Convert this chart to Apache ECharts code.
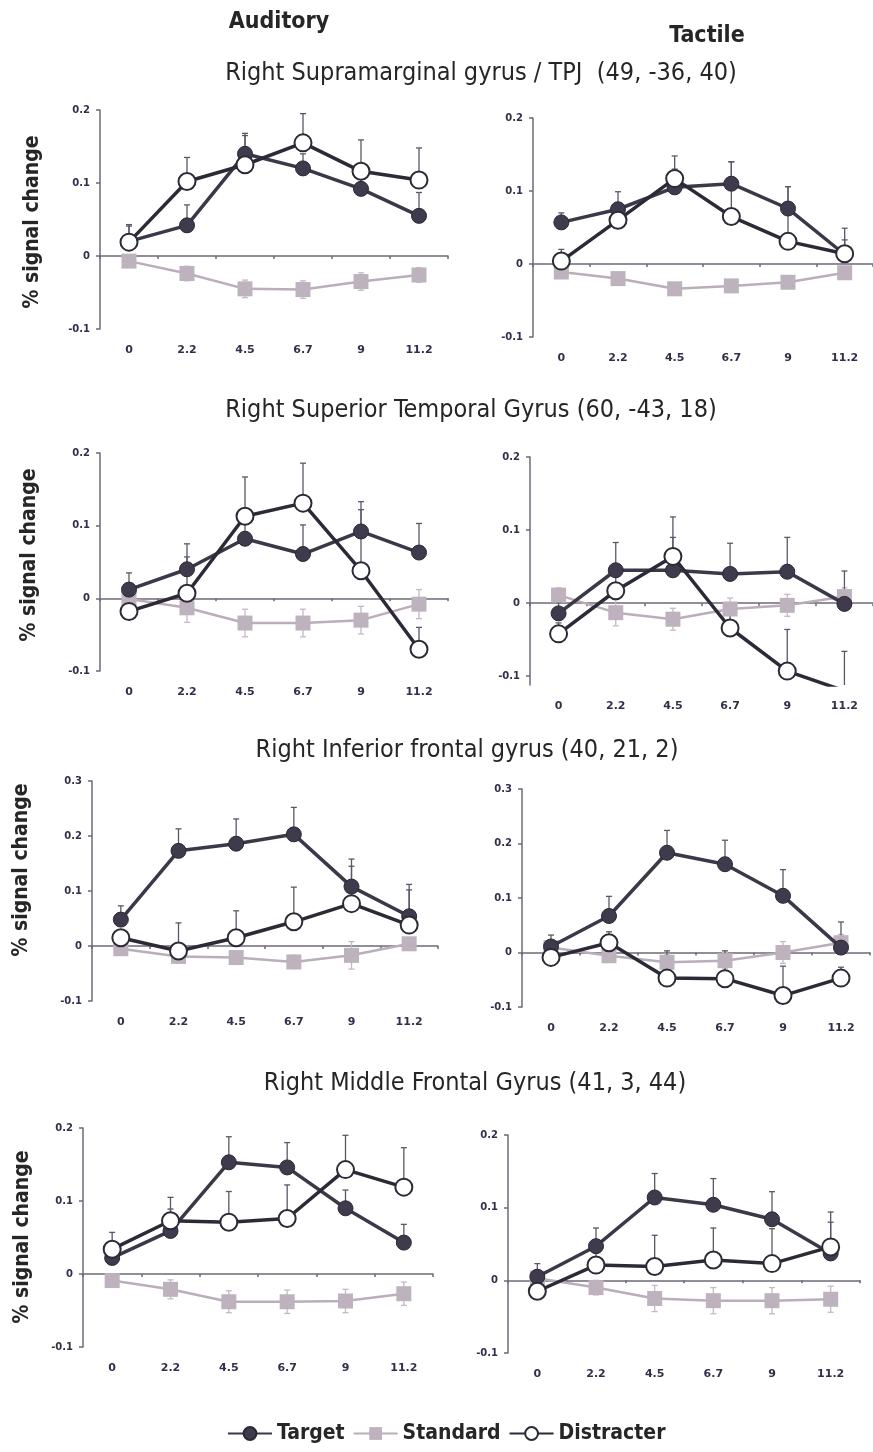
<!DOCTYPE html>
<html>
<head>
<meta charset="utf-8">
<style>
  html, body { margin: 0; padding: 0; background: #fff; }
  #chart-container { width: 873px; height: 1452px; }
</style>
</head>
<body>
<div id="chart-container"></div>
<script src="https://cdn.jsdelivr.net/npm/echarts@6/dist/echarts.min.js"></script>
<script>
var timeLabels = ["0", "2.2", "4.5", "6.7", "9", "11.2"];

// Right Supramarginal gyrus / TPJ
var smgAudTarget = [0.020, 0.042, 0.140, 0.120, 0.092, 0.055];
var smgAudTargetSe = [0.021, 0.028, 0.028, 0.020, 0.020, 0.032];
var smgAudStandard = [-0.007, -0.024, -0.045, -0.046, -0.035, -0.026];
var smgAudStandardSe = [0.008, 0.010, 0.012, 0.012, 0.012, 0.010];
var smgAudDistracter = [0.019, 0.102, 0.125, 0.155, 0.116, 0.104];
var smgAudDistracterSe = [0.024, 0.033, 0.040, 0.040, 0.043, 0.044];

var smgTacTarget = [0.057, 0.075, 0.105, 0.110, 0.076, 0.013];
var smgTacTargetSe = [0.013, 0.024, 0.025, 0.030, 0.030, 0.020];
var smgTacStandard = [-0.011, -0.020, -0.034, -0.030, -0.025, -0.012];
var smgTacStandardSe = [0.006, 0.008, 0.008, 0.008, 0.008, 0.006];
var smgTacDistracter = [0.004, 0.060, 0.117, 0.065, 0.031, 0.014];
var smgTacDistracterSe = [0.016, 0.022, 0.031, 0.075, 0.075, 0.035];

// Right Superior Temporal Gyrus
var stgAudTarget = [0.012, 0.040, 0.082, 0.061, 0.092, 0.063];
var stgAudTargetSe = [0.023, 0.017, 0.030, 0.040, 0.030, 0.040];
var stgAudStandard = [-0.001, -0.013, -0.034, -0.034, -0.030, -0.008];
var stgAudStandardSe = [0.010, 0.020, 0.019, 0.019, 0.019, 0.020];
var stgAudDistracter = [-0.018, 0.007, 0.113, 0.131, 0.038, -0.070];
var stgAudDistracterSe = [0.015, 0.068, 0.054, 0.055, 0.095, 0.030];

var stgTacTarget = [-0.014, 0.045, 0.045, 0.040, 0.043, -0.001];
var stgTacTargetSe = [0.015, 0.038, 0.045, 0.042, 0.047, 0.045];
var stgTacStandard = [0.011, -0.013, -0.022, -0.008, -0.003, 0.009];
var stgTacStandardSe = [0.010, 0.018, 0.015, 0.015, 0.015, 0.012];
var stgTacDistracter = [-0.042, 0.017, 0.064, -0.034, -0.093, -0.120];
var stgTacDistracterSe = [0.015, 0.020, 0.054, 0.020, 0.057, 0.054];

// Right Inferior frontal gyrus
var ifgAudTarget = [0.048, 0.173, 0.186, 0.203, 0.108, 0.054];
var ifgAudTargetSe = [0.025, 0.040, 0.045, 0.049, 0.050, 0.058];
var ifgAudStandard = [-0.005, -0.019, -0.021, -0.029, -0.017, 0.004];
var ifgAudStandardSe = [0.008, 0.010, 0.010, 0.012, 0.025, 0.008];
var ifgAudDistracter = [0.015, -0.009, 0.015, 0.044, 0.077, 0.038];
var ifgAudDistracterSe = [0.010, 0.051, 0.049, 0.063, 0.068, 0.064];

var ifgTacTarget = [0.011, 0.067, 0.183, 0.162, 0.104, 0.009];
var ifgTacTargetSe = [0.021, 0.036, 0.041, 0.044, 0.048, 0.047];
var ifgTacStandard = [0.009, -0.006, -0.018, -0.015, 0.000, 0.018];
var ifgTacStandardSe = [0.010, 0.012, 0.015, 0.015, 0.020, 0.015];
var ifgTacDistracter = [-0.009, 0.018, -0.047, -0.048, -0.079, -0.047];
var ifgTacDistracterSe = [0.010, 0.020, 0.050, 0.051, 0.054, 0.020];

// Right Middle Frontal Gyrus
var mfgAudTarget = [0.022, 0.059, 0.153, 0.146, 0.090, 0.043];
var mfgAudTargetSe = [0.015, 0.030, 0.035, 0.034, 0.025, 0.025];
var mfgAudStandard = [-0.009, -0.021, -0.038, -0.038, -0.037, -0.027];
var mfgAudStandardSe = [0.008, 0.013, 0.015, 0.016, 0.016, 0.016];
var mfgAudDistracter = [0.034, 0.073, 0.071, 0.076, 0.143, 0.119];
var mfgAudDistracterSe = [0.023, 0.032, 0.042, 0.046, 0.047, 0.054];

var mfgTacTarget = [0.005, 0.047, 0.114, 0.104, 0.084, 0.037];
var mfgTacTargetSe = [0.018, 0.025, 0.033, 0.036, 0.038, 0.043];
var mfgTacStandard = [0.003, -0.010, -0.025, -0.028, -0.028, -0.026];
var mfgTacStandardSe = [0.008, 0.010, 0.018, 0.018, 0.018, 0.018];
var mfgTacDistracter = [-0.015, 0.021, 0.019, 0.028, 0.023, 0.046];
var mfgTacDistracterSe = [0.010, 0.020, 0.043, 0.044, 0.048, 0.048];

var rowTitles = [
  "Right Supramarginal gyrus / TPJ  (49, -36, 40)",
  "Right Superior Temporal Gyrus (60, -43, 18)",
  "Right Inferior frontal gyrus (40, 21, 2)",
  "Right Middle Frontal Gyrus (41, 3, 44)"
];

var axisColor = "#6e6a7a";
var labelColor = "#30304a";
var textColor = "#262626";
var targetColor = "#3b3848";
var distracterColor = "#2c2a36";
var standardColor = "#b9aeb9";
var titleFont = "'DejaVu Sans Condensed', 'DejaVu Sans', sans-serif";
var tickFont = "'DejaVu Sans', Verdana, sans-serif";

// box = [left, top, width, height] of each plot area
var panels = [
  { box: [100, 110, 348, 219], yMax: 0.2, yMin: -0.1, t: smgAudTarget, tSe: smgAudTargetSe, s: smgAudStandard, sSe: smgAudStandardSe, d: smgAudDistracter, dSe: smgAudDistracterSe },
  { box: [533, 118, 348, 219], yMax: 0.2, yMin: -0.1, t: smgTacTarget, tSe: smgTacTargetSe, s: smgTacStandard, sSe: smgTacStandardSe, d: smgTacDistracter, dSe: smgTacDistracterSe },
  { box: [100, 453, 348, 218], yMax: 0.2, yMin: -0.1, t: stgAudTarget, tSe: stgAudTargetSe, s: stgAudStandard, sSe: stgAudStandardSe, d: stgAudDistracter, dSe: stgAudDistracterSe },
  { box: [530, 457, 349, 228], yMax: 0.2, yMin: -0.112, t: stgTacTarget, tSe: stgTacTargetSe, s: stgTacStandard, sSe: stgTacStandardSe, d: stgTacDistracter, dSe: stgTacDistracterSe },
  { box: [92, 781, 346, 220], yMax: 0.3, yMin: -0.1, t: ifgAudTarget, tSe: ifgAudTargetSe, s: ifgAudStandard, sSe: ifgAudStandardSe, d: ifgAudDistracter, dSe: ifgAudDistracterSe },
  { box: [522, 789, 348, 218], yMax: 0.3, yMin: -0.1, t: ifgTacTarget, tSe: ifgTacTargetSe, s: ifgTacStandard, sSe: ifgTacStandardSe, d: ifgTacDistracter, dSe: ifgTacDistracterSe },
  { box: [83, 1128, 350, 219], yMax: 0.2, yMin: -0.1, t: mfgAudTarget, tSe: mfgAudTargetSe, s: mfgAudStandard, sSe: mfgAudStandardSe, d: mfgAudDistracter, dSe: mfgAudDistracterSe },
  { box: [508, 1135, 352, 218], yMax: 0.2, yMin: -0.1, t: mfgTacTarget, tSe: mfgTacTargetSe, s: mfgTacStandard, sSe: mfgTacStandardSe, d: mfgTacDistracter, dSe: mfgTacDistracterSe }
];

function errorRender(color, twoSided) {
  return function (params, api) {
    var top = api.coord([api.value(0), api.value(2)]);
    var bottom = api.coord([api.value(0), api.value(1)]);
    var half = 3;
    var style = { stroke: color, lineWidth: 1.3 };
    var children = [
      { type: "line", shape: { x1: top[0], y1: top[1], x2: bottom[0], y2: bottom[1] }, style: style },
      { type: "line", shape: { x1: top[0] - half, y1: top[1], x2: top[0] + half, y2: top[1] }, style: style }
    ];
    if (twoSided) {
      children.push({ type: "line", shape: { x1: bottom[0] - half, y1: bottom[1], x2: bottom[0] + half, y2: bottom[1] }, style: style });
    }
    return { type: "group", children: children };
  };
}

function errorSeries(name, values, errs, twoSided, color, idx) {
  return {
    name: name + " SE",
    type: "custom",
    xAxisIndex: idx * 2,
    yAxisIndex: idx,
    clip: true,
    z: 1,
    silent: true,
    renderItem: errorRender(color, twoSided),
    data: values.map(function (v, k) {
      return [k, twoSided ? v - errs[k] : v, v + errs[k]];
    })
  };
}

var grids = [];
var xAxes = [];
var yAxes = [];
var series = [];

panels.forEach(function (p, i) {
  grids.push({ left: p.box[0], top: p.box[1], width: p.box[2], height: p.box[3] });

  // axis line drawn through zero
  xAxes.push({
    gridIndex: i,
    type: "category",
    data: timeLabels,
    axisLine: { onZero: true, lineStyle: { color: axisColor, width: 1.5 } },
    axisTick: { show: true, length: 3, lineStyle: { color: axisColor, width: 1.5 } },
    axisLabel: { show: false },
    splitLine: { show: false }
  });
  // labels along the bottom
  xAxes.push({
    gridIndex: i,
    type: "category",
    data: timeLabels,
    position: "bottom",
    axisLine: { show: false, onZero: false },
    axisTick: { show: false },
    axisLabel: {
      margin: 16,
      color: labelColor,
      fontFamily: tickFont,
      fontWeight: "bold",
      fontSize: 11
    },
    splitLine: { show: false }
  });

  var ticks = p.yMax > 0.25 ? [-0.1, 0, 0.1, 0.2, 0.3] : [-0.1, 0, 0.1, 0.2];
  yAxes.push({
    gridIndex: i,
    type: "value",
    min: p.yMin,
    max: p.yMax,
    axisLine: { show: true, lineStyle: { color: axisColor, width: 1.5 } },
    axisTick: { show: true, length: 4, customValues: ticks, lineStyle: { color: axisColor, width: 1.5 } },
    axisLabel: {
      customValues: ticks,
      margin: 10,
      color: labelColor,
      fontFamily: tickFont,
      fontWeight: "bold",
      fontSize: 10
    },
    splitLine: { show: false }
  });

  series.push(errorSeries("Standard", p.s, p.sSe, true, "#c4bac4", i));
  series.push(errorSeries("Target", p.t, p.tSe, false, "#5a5866", i));
  series.push(errorSeries("Distracter", p.d, p.dSe, false, "#5a5866", i));

  series.push({
    name: "Standard",
    type: "line",
    xAxisIndex: i * 2,
    yAxisIndex: i,
    data: p.s,
    z: 2,
    symbol: "rect",
    symbolSize: 15,
    lineStyle: { color: standardColor, width: 2.5 },
    itemStyle: { color: "#bdb2bd", borderWidth: 0 }
  });
  series.push({
    name: "Target",
    type: "line",
    xAxisIndex: i * 2,
    yAxisIndex: i,
    data: p.t,
    z: 3,
    symbol: "circle",
    symbolSize: 15,
    lineStyle: { color: targetColor, width: 3.5 },
    itemStyle: { color: "#3f3b4d", borderColor: "#2a2836", borderWidth: 1 }
  });
  series.push({
    name: "Distracter",
    type: "line",
    xAxisIndex: i * 2,
    yAxisIndex: i,
    data: p.d,
    z: 4,
    symbol: "circle",
    symbolSize: 17,
    lineStyle: { color: distracterColor, width: 3.5 },
    itemStyle: { color: "#ffffff", borderColor: distracterColor, borderWidth: 2 }
  });
});

function label(text, x, y, size, weight, rotate) {
  return {
    type: "text",
    x: x,
    y: y,
    rotation: rotate ? Math.PI / 2 : 0,
    style: {
      text: text,
      fill: textColor,
      font: weight + " " + size + "px " + titleFont,
      align: "center",
      verticalAlign: "middle"
    }
  };
}

var graphics = [
  label("Auditory", 279, 22, 23, "bold"),
  label("Tactile", 707, 36, 23, "bold"),
  label(rowTitles[0], 481, 73, 25, "normal"),
  label(rowTitles[1], 471, 410, 25, "normal"),
  label(rowTitles[2], 467, 750, 25, "normal"),
  label(rowTitles[3], 475, 1083, 25, "normal"),
  label("% signal change", 33, 222, 21, "bold", true),
  label("% signal change", 30, 555, 21, "bold", true),
  label("% signal change", 22, 870, 21, "bold", true),
  label("% signal change", 23, 1237, 21, "bold", true)
];

var myChart = echarts.init(document.getElementById("chart-container"), null, { renderer: "canvas" });

var option = {
  animation: false,
  backgroundColor: "#ffffff",
  grid: grids,
  xAxis: xAxes,
  yAxis: yAxes,
  graphic: graphics,
  legend: {
    data: ["Target", "Standard", "Distracter"],
    top: 1418,
    left: 222,
    itemWidth: 44,
    itemHeight: 16,
    itemGap: 8,
    textStyle: { color: textColor, fontFamily: titleFont, fontWeight: "bold", fontSize: 21 }
  },
  series: series
};

myChart.setOption(option);
window.addEventListener("resize", myChart.resize);
</script>
</body>
</html>
